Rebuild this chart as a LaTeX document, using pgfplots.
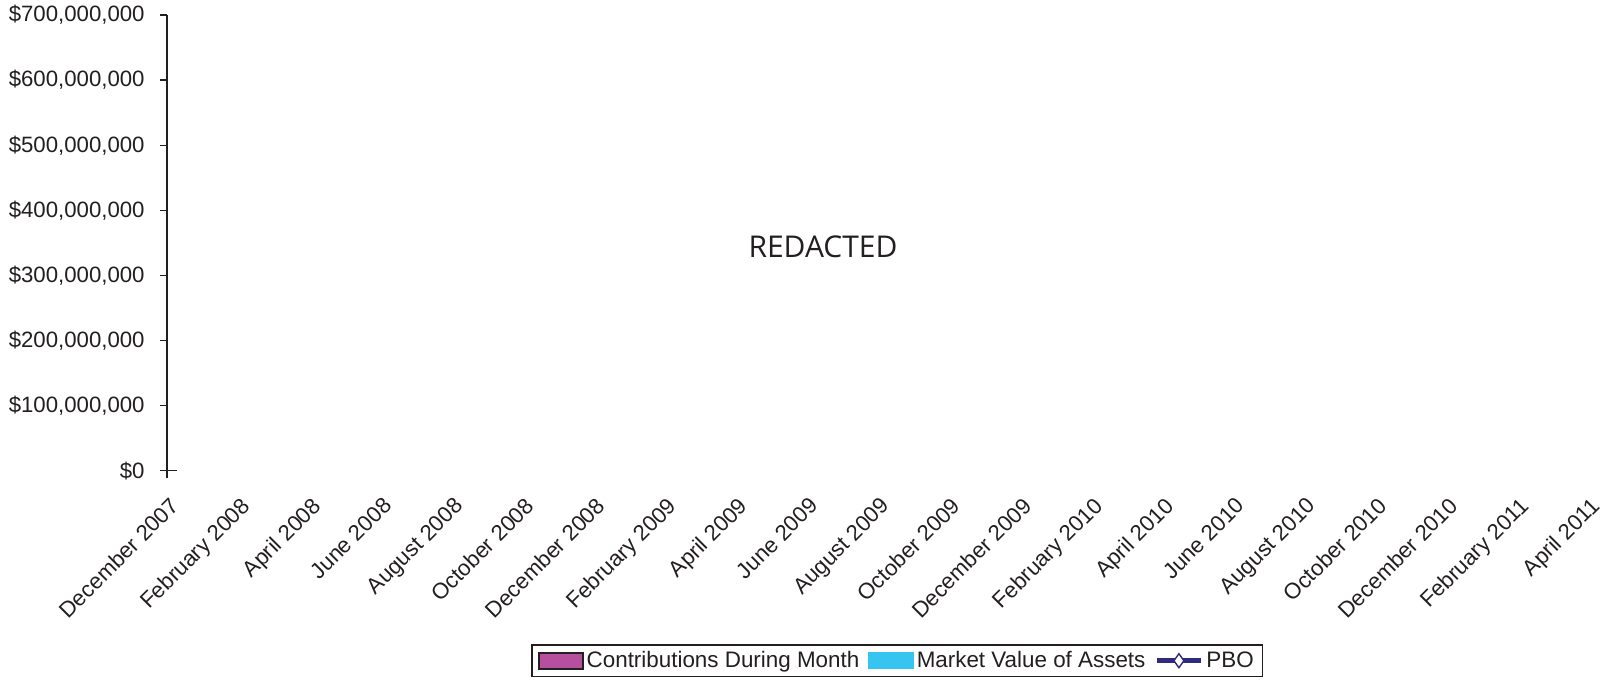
\documentclass[border=0pt]{standalone}
\usepackage{pgfplots}
\pgfplotsset{compat=1.18}
\usepackage{fontspec}
\setmainfont{Liberation Sans}
\newfontfamily\redfont{Open Sans}
\definecolor{txt}{HTML}{231F20}
\definecolor{contrib}{HTML}{B6509E}
\definecolor{mva}{HTML}{36C5F0}
\definecolor{pbo}{HTML}{2E2A7E}
\begin{document}
\begin{tikzpicture}
\useasboundingbox (-83.5pt,-104.65pt) rectangle (717pt,235.35pt);
\begin{axis}[
  at={(0,0)}, anchor=south west,
  scale only axis, width=710.5pt, height=227.85pt,
  xmin=0, xmax=20, ymin=0, ymax=700,
  axis lines*=left,
  x axis line style={draw=none},
  y axis line style={draw=txt, line width=0.7pt},
  xtick={0,...,20},
  xticklabels={December 2007, February 2008, April 2008, June 2008, August 2008, October 2008, December 2008, February 2009, April 2009, June 2009, August 2009, October 2009, December 2009, February 2010, April 2010, June 2010, August 2010, October 2010, December 2010, February 2011, April 2011},
  xtick style={draw=none},
  x tick label style={xshift=0.9pt, yshift=-9pt, rotate=45, anchor=north east, inner sep=0pt, font=\fontsize{11.1}{13}\selectfont, text=txt},
  ytick={0,100,200,300,400,500,600,700},
  yticklabels={\$0,{\$100,000,000},{\$200,000,000},{\$300,000,000},{\$400,000,000},{\$500,000,000},{\$600,000,000},{\$700,000,000}},
  y tick label style={anchor=east, inner sep=0pt, xshift=-7.5pt, font=\fontsize{11.1}{13}\selectfont, text=txt},
  ytick style={draw=txt, line width=0.7pt},
  tick align=outside,
  major tick length=3.5pt,
  clip=false,
  legend columns=-1,
  legend style={at={(0.514,-0.417)}, anchor=center, draw=txt, line width=0.7pt,
    font=\fontsize{11.2}{13}\selectfont, text=txt, inner xsep=3pt, inner ysep=1.5pt,
    /tikz/every even column/.append style={column sep=3pt},
    nodes={inner sep=1.5pt}},
]
\addlegendimage{legend image code/.code={\draw[draw=txt, fill=contrib, line width=0.8pt] (0pt,-4pt) rectangle (22pt,4pt);}}
\addlegendentry{Contributions During Month}
\addlegendimage{legend image code/.code={\fill[mva] (0pt,-4pt) rectangle (22pt,4pt);}}
\addlegendentry{Market Value of Assets}
\addlegendimage{legend image code/.code={\draw[pbo, line width=2.5pt] (0pt,0pt) -- (22pt,0pt); \draw[pbo, fill=white, line width=0.7pt] (8.5pt,0pt) -- (11pt,3.5pt) -- (13.5pt,0pt) -- (11pt,-3.5pt) -- cycle;}}
\addlegendentry{PBO}
\end{axis}
\draw[txt, line width=0.7pt] (0,0) -- (5pt,0);
\draw[txt, line width=0.7pt] (0,0) -- (0,-3.5pt);
\node[font=\redfont\fontsize{15}{18}\selectfont, text=txt] at (328pt,111.85pt) {REDACTED};
\end{tikzpicture}
\end{document}
